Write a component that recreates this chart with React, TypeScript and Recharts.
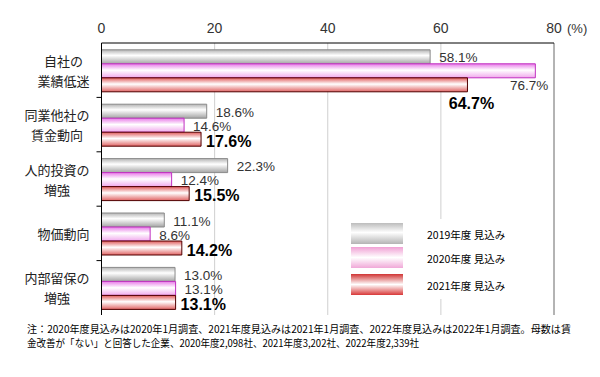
import React from "react";
import {
  BarChart,
  Bar,
  XAxis,
  YAxis,
  CartesianGrid,
  LabelList,
  Legend,
  ReferenceLine,
} from "recharts";

const categoryLines: string[][] = [
  ["自社の", "業績低迷"],
  ["同業他社の", "賃金動向"],
  ["人的投資の", "増強"],
  ["物価動向"],
  ["内部留保の", "増強"],
];
const values2019 = [58.1, 18.6, 22.3, 11.1, 13.0];
const values2020 = [76.7, 14.6, 12.4, 8.6, 13.1];
const values2021 = [64.7, 17.6, 15.5, 14.2, 13.1];
const xTicks = [0, 20, 40, 60, 80];
const seriesNames = ["2019年度 見込み", "2020年度 見込み", "2021年度 見込み"];
const noteLines = [
  "注：2020年度見込みは2020年1月調査、2021年度見込みは2021年1月調査、2022年度見込みは2022年1月調査。母数は賃",
  "金改善が「ない」と回答した企業、2020年度2,098社、2021年度3,202社、2022年度2,339社",
];

const data = categoryLines.map((lines, i) => ({
  name: lines.join("\n"),
  v2019: values2019[i],
  v2020: values2020[i],
  v2021: values2021[i],
}));

const LATIN = "Arial, 'Liberation Sans', sans-serif";
const CJK = "'Noto Sans CJK JP', sans-serif";
const OVERFLOW = 70; // values above this get their label moved below

const fmt = (v: number) => `${Number(v).toFixed(1)}%`;

const GrayLabel = (p: any) => {
  const { x, y, width, height, value } = p;
  return (
    <text x={x + width + 9} y={y + height / 2 + 1} dominantBaseline="central" fontSize={13.5} fill="#333" fontFamily={LATIN}>
      {fmt(value)}
    </text>
  );
};

const PinkLabel = (p: any) => {
  const { x, y, width, height, value } = p;
  if (value > OVERFLOW) {
    return (
      <text x={x + width + 13} y={y + height * 1.5 + 1} textAnchor="end" dominantBaseline="central" fontSize={13.5} fill="#333" fontFamily={LATIN}>
        {fmt(value)}
      </text>
    );
  }
  return (
    <text x={x + width + 9} y={y + height / 2 + 1} dominantBaseline="central" fontSize={13.5} fill="#333" fontFamily={LATIN}>
      {fmt(value)}
    </text>
  );
};

const RedLabel = (p: any) => {
  const { x, y, width, height, value, index } = p;
  const moved = index != null && values2020[index] > OVERFLOW;
  if (moved) {
    return (
      <text x={x + width + 4} y={y + height + 12} textAnchor="middle" dominantBaseline="central" fontSize={16} fontWeight="bold" fill="#000" fontFamily={LATIN}>
        {fmt(value)}
      </text>
    );
  }
  return (
    <text x={x + width + 5} y={y + height / 2 + 2} dominantBaseline="central" fontSize={16} fontWeight="bold" fill="#000" fontFamily={LATIN}>
      {fmt(value)}
    </text>
  );
};

const XTick = (p: any) => {
  const { x, y, payload } = p;
  const v = payload.value;
  return (
    <g>
      <text x={x} y={y - 2} textAnchor="middle" fontSize={14} fill="#333" fontFamily={LATIN}>
        {v}
      </text>
      {v === 80 && (
        <text x={x + 13} y={y - 2} fontSize={13} fill="#333" fontFamily={LATIN}>
          (%)
        </text>
      )}
    </g>
  );
};

const YTick = (p: any) => {
  const { x, y, payload, index } = p;
  const lines: string[] = String(payload.value).split("\n");
  const fs = 13;
  const maxW = Math.max(...lines.map((l) => l.length)) * fs;
  const cx = x - 4 - maxW / 2;
  const lh = 20;
  const off = payload.offset || 0;
  const n = lines.length;
  return (
    <g>
      {lines.map((l, i) => (
        <text key={i} x={cx} y={y + (i - (n - 1) / 2) * lh} textAnchor="middle" dominantBaseline="central" fontSize={fs} fill="#222" fontFamily={CJK}>
          {l}
        </text>
      ))}
      {index < categoryLines.length - 1 && off > 0 && (
        <line x1={x + 3} x2={x + 8} y1={y + off} y2={y + off} stroke="#000" />
      )}
    </g>
  );
};

const legendFills = ["url(#lgGray)", "url(#lgPink)", "url(#lgRed)"];

const LegendContent = () => (
  <svg width={176} height={80} style={{ display: "block", background: "#fff" }}>
    {seriesNames.map((n, i) => {
      const top = [4, 28, 55][i];
      return (
        <g key={n}>
          <rect x={9} y={top} width={52} height={21} fill={legendFills[i]} />
          <text x={85} y={top + 11} dominantBaseline="central" fontSize={10.5} fill="#000" fontFamily={CJK}>
            {n}
          </text>
        </g>
      );
    })}
  </svg>
);

export default function App() {
  return (
    <div style={{ position: "absolute", left: 0, top: 0, width: 600, height: 377, background: "#fff" }}>
      <BarChart
        width={600}
        height={377}
        data={data}
        layout="vertical"
        margin={{ top: 13, right: 46, bottom: 62, left: 0 }}
        barCategoryGap="12.5%"
        barGap={0}
      >
        <defs>
          <linearGradient id="gGray" x1="0" y1="0" x2="0" y2="1">
            <stop offset="0%" stopColor="#b4b4b4" />
            <stop offset="40%" stopColor="#ffffff" />
            <stop offset="100%" stopColor="#a4a4a4" />
          </linearGradient>
          <linearGradient id="gPink" x1="0" y1="0" x2="0" y2="1">
            <stop offset="0%" stopColor="#e87ae8" />
            <stop offset="45%" stopColor="#ffffff" />
            <stop offset="100%" stopColor="#f0a8ec" />
          </linearGradient>
          <linearGradient id="gRed" x1="0" y1="0" x2="0" y2="1">
            <stop offset="0%" stopColor="#e05a5a" />
            <stop offset="45%" stopColor="#ffffff" />
            <stop offset="100%" stopColor="#e06464" />
          </linearGradient>
          <linearGradient id="lgGray" x1="0" y1="0" x2="0" y2="1">
            <stop offset="0%" stopColor="#bcbcbc" />
            <stop offset="45%" stopColor="#ffffff" />
            <stop offset="100%" stopColor="#b4b4b4" />
          </linearGradient>
          <linearGradient id="lgPink" x1="0" y1="0" x2="0" y2="1">
            <stop offset="0%" stopColor="#f0a0d4" />
            <stop offset="50%" stopColor="#ffffff" />
            <stop offset="100%" stopColor="#f0a8d8" />
          </linearGradient>
          <linearGradient id="lgRed" x1="0" y1="0" x2="0" y2="1">
            <stop offset="0%" stopColor="#d03434" />
            <stop offset="50%" stopColor="#ffffff" />
            <stop offset="100%" stopColor="#d83838" />
          </linearGradient>
        </defs>
        <CartesianGrid horizontal={false} vertical stroke="#cfcfcf" />
        <XAxis
          type="number"
          orientation="top"
          domain={[0, 80]}
          ticks={xTicks}
          height={30}
          axisLine={{ stroke: "#000" }}
          tickLine={false}
          tick={<XTick />}
          interval={0}
        />
        <XAxis
          xAxisId="bottom"
          type="number"
          orientation="bottom"
          domain={[0, 80]}
          height={0}
          tick={false}
          tickLine={false}
          axisLine={{ stroke: "#707070" }}
        />
        <YAxis
          type="category"
          dataKey="name"
          width={101.5}
          axisLine={{ stroke: "#000" }}
          tickLine={false}
          tick={<YTick />}
          interval={0}
        />
        <ReferenceLine x={80} stroke="#808080" />
        <Bar dataKey="v2019" name={seriesNames[0]} fill="url(#gGray)" stroke="#8a8a8a" isAnimationActive={false}>
          <LabelList dataKey="v2019" content={<GrayLabel />} />
        </Bar>
        <Bar dataKey="v2020" name={seriesNames[1]} fill="url(#gPink)" stroke="#c030c0" isAnimationActive={false}>
          <LabelList dataKey="v2020" content={<PinkLabel />} />
        </Bar>
        <Bar dataKey="v2021" name={seriesNames[2]} fill="url(#gRed)" stroke="#500000" isAnimationActive={false}>
          <LabelList dataKey="v2021" content={<RedLabel />} />
        </Bar>
        <Legend
          layout="horizontal"
          verticalAlign="middle"
          align="center"
          content={<LegendContent />}
          wrapperStyle={{ position: "absolute", left: 342, top: 219, width: 176, height: 80 }}
        />
      </BarChart>
      <svg width={600} height={377} style={{ position: "absolute", left: 0, top: 0, pointerEvents: "none" }}>
        {noteLines.map((t, i) => (
          <text
            key={i}
            x={27}
            y={[328, 342][i]}
            dominantBaseline="central"
            fontSize={10}
            fill="#000"
            fontFamily={CJK}
            textLength={[544, 392][i]}
            lengthAdjust="spacingAndGlyphs"
          >
            {t}
          </text>
        ))}
      </svg>
    </div>
  );
}
